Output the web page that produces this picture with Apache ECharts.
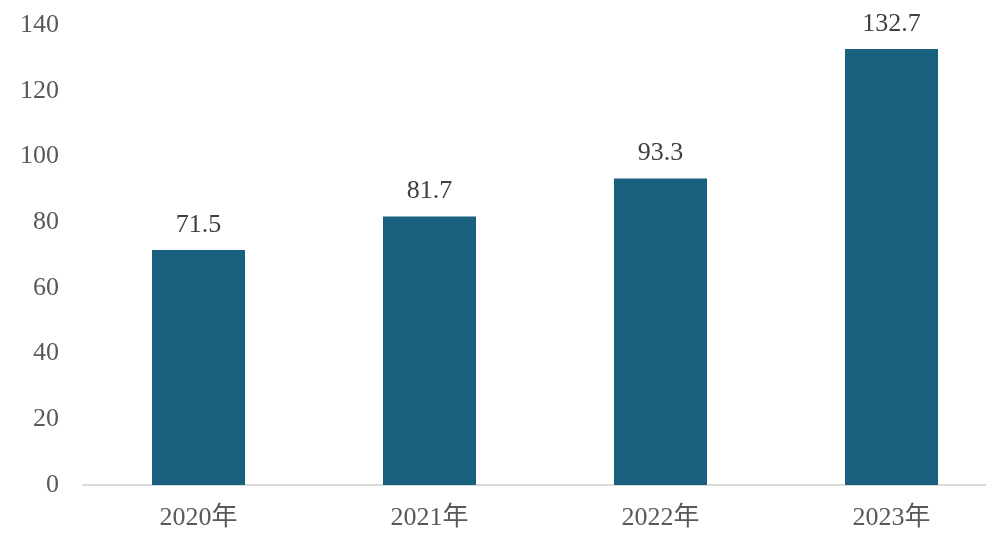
<!DOCTYPE html>
<html>
<head>
<meta charset="utf-8">
<script src="https://cdn.jsdelivr.net/npm/echarts@6/dist/echarts.min.js"></script>
<style>
html, body { margin: 0; padding: 0; background: #fff; }
#main { width: 986px; height: 544px; }
</style>
</head>
<body>
<div id="main"></div>
<script>
var years = ['2020年', '2021年', '2022年', '2023年'];
var values = [71.5, 81.7, 93.3, 132.7];

var textFont = '"Liberation Serif", "Noto Sans CJK SC", serif';

var myChart = echarts.init(document.getElementById('main'));
var option = {
    animation: false,
    grid: { left: 83, right: -21, top: 25, bottom: 59, outerBoundsMode: 'none' },
    xAxis: {
        type: 'category',
        data: years,
        axisLine: { lineStyle: { color: '#d9d9d9', width: 2 } },
        axisTick: { show: false },
        axisLabel: { color: '#595959', fontSize: 26, fontFamily: textFont, margin: 20 }
    },
    yAxis: {
        type: 'value',
        min: 0,
        max: 140,
        interval: 20,
        splitLine: { show: false },
        axisLine: { show: false },
        axisTick: { show: false },
        axisLabel: { color: '#595959', fontSize: 26, fontFamily: textFont, margin: 24 }
    },
    series: [{
        type: 'bar',
        data: values,
        barWidth: 93,
        itemStyle: { color: '#18607e' },
        label: {
            show: true,
            position: 'top',
            distance: 12,
            color: '#404040',
            fontSize: 26,
            fontFamily: textFont
        }
    }]
};
myChart.setOption(option);
</script>
</body>
</html>
